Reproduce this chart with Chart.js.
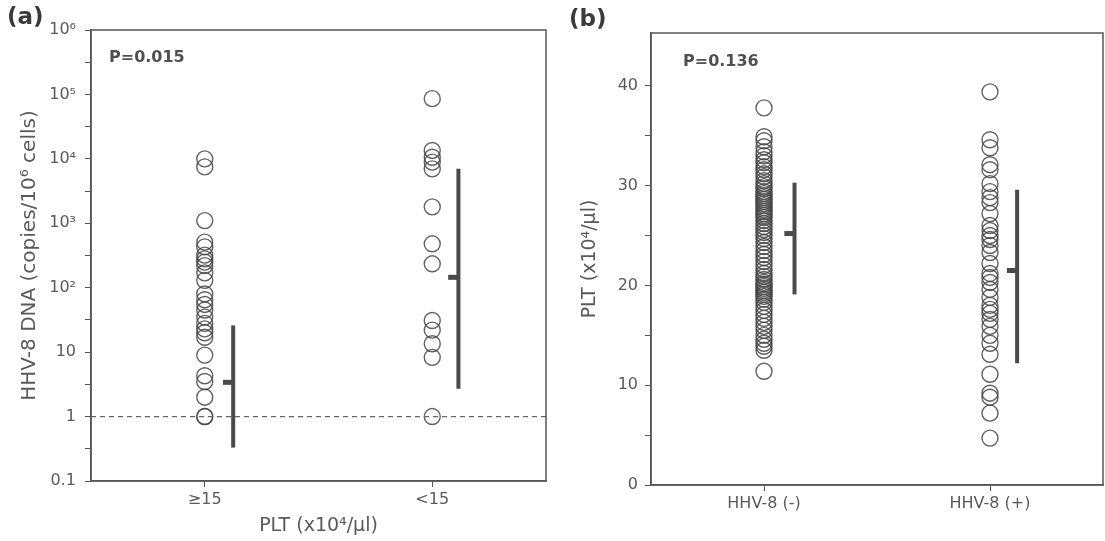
<!DOCTYPE html>
<html>
<head>
<meta charset="utf-8">
<script src="https://cdn.jsdelivr.net/npm/chart.js@4.4.1/dist/chart.umd.min.js"></script>
<style>
  body { margin: 0; background: #fff; width: 1105px; height: 541px; position: relative; overflow: hidden; }
  canvas { position: absolute; top: 0; }
  #chartA { left: 0; }
  #chartB { left: 560px; }
</style>
</head>
<body>
<canvas id="chartA" width="560" height="541"></canvas>
<canvas id="chartB" width="545" height="541"></canvas>
<script>
// ---- panel (a): HHV-8 DNA load by platelet group ----
const groupsA = ['\u226515', '<15']
const highPltVals = [10000, 7500, 1100, 510, 430, 320, 280, 250, 220, 170, 130, 80, 65, 55, 45, 35, 28, 23, 20, 17, 9, 4.3, 3.5, 2, 1, 1]
const lowPltVals = [86000, 13500, 10600, 8900, 7000, 1800, 480, 235, 31, 22, 13.5, 8.3, 1]
const meansA = [3.4, 145]
const lowBarA = [0.33, 2.7]
const highBarA = [26, 7000]
const cutoffA = 1
const tickValsA = [0.1, 1, 10, 100, 1000, 10000, 100000, 1000000]
const tickLabelsA = ['0.1', '1', '10', '10\u00b2', '10\u00b3', '10\u2074', '10\u2075', '10\u2076']
const minorTicksA = [0.316, 3.16, 31.6, 316, 3160, 31600, 316000]

// ---- panel (b): platelets by HHV-8 status ----
const groupsB = ['HHV-8 (-)', 'HHV-8 (+)']
const negVals = [37.8, 34.9, 34.5, 33.9, 33.4, 33.0, 32.6, 32.3, 31.9, 31.6, 31.2, 30.9, 30.5, 30.2, 29.9, 29.7, 29.4, 29.2, 29.0, 28.8, 28.6, 28.4, 28.2, 28.0, 27.8, 27.6, 27.4, 27.2, 27.0, 26.8, 26.5, 26.2, 25.9, 25.6, 25.3, 25.0, 24.7, 24.3, 23.9, 23.5, 23.1, 22.8, 22.4, 22.0, 21.6, 21.2, 20.9, 20.6, 20.3, 20.1, 19.9, 19.7, 19.5, 19.3, 19.1, 18.9, 18.6, 18.3, 17.9, 17.5, 17.1, 16.7, 16.3, 15.9, 15.5, 15.0, 14.6, 14.2, 13.9, 13.5, 11.4]
const posVals = [39.4, 34.6, 33.8, 32.1, 31.6, 30.2, 29.4, 28.8, 28.3, 27.2, 26.0, 25.5, 25.0, 24.6, 24.0, 23.3, 22.2, 21.2, 20.8, 20.3, 19.6, 18.8, 18.0, 17.6, 17.2, 16.6, 15.9, 15.0, 14.2, 13.1, 11.1, 9.2, 8.8, 7.2, 4.7]
const meansB = [25.2, 21.5]
const lowBarB = [19.1, 12.2]
const highBarB = [30.3, 29.6]
const tickValsB = [0, 10, 20, 30, 40]
const minorTicksB = [5, 15, 25, 35]

// where the mean/range bar sits next to each column (x units)
const barOffsetA = [0.125, 0.115]
const barOffsetB = [0.135, 0.12]

const inkColor = '#4a4a4a'
const axisColor = '#555'
const textColor = '#5a5a5a'
const fontFamily = '"DejaVu Sans", Verdana, sans-serif'

// box around the plot + panel letter + P value
const framePlugin = {
    id: 'frame',
    afterDraw(chart, args, opts) {
        const ctx = chart.ctx
        const a = chart.chartArea
        ctx.save()
        ctx.strokeStyle = axisColor
        ctx.lineWidth = 1.5
        ctx.strokeRect(a.left, a.top, a.right - a.left, a.bottom - a.top)
        ctx.fillStyle = '#3a3a3a'
        ctx.textBaseline = 'middle'
        ctx.font = 'bold 23px ' + fontFamily
        ctx.fillText(opts.panel, opts.panelX, opts.panelY)
        ctx.font = 'bold 16px ' + fontFamily
        ctx.fillStyle = '#505050'
        ctx.fillText(opts.pText, a.left + opts.pDx, a.top + opts.pDy)
        ctx.restore()
    }
}

function circles(vals, x) {
    return {
        data: vals.map(v => ({ x: x, y: v })),
        pointStyle: 'circle',
        pointRadius: 8,
        pointBorderWidth: 1.4,
        pointBorderColor: 'rgba(70,70,70,0.85)',
        pointBackgroundColor: 'rgba(0,0,0,0)',
        showLine: false
    }
}

function rangeBar(x, lo, hi) {
    return {
        data: [{ x: x, y: lo }, { x: x, y: hi }],
        showLine: true,
        borderColor: inkColor,
        borderWidth: 4,
        pointRadius: 0
    }
}

function meanStub(x, m) {
    return {
        data: [{ x: x - 0.045, y: m }, { x: x, y: m }],
        showLine: true,
        borderColor: inkColor,
        borderWidth: 5,
        pointRadius: 0
    }
}

function xScale(labels, height, title) {
    return {
        type: 'linear',
        min: 0.5,
        max: 2.5,
        afterBuildTicks: s => { s.ticks = [{ value: 1 }, { value: 2 }] },
        afterFit: s => {
            s.height = height
            s.paddingLeft = 0
            s.paddingRight = 0
        },
        ticks: {
            autoSkip: false,
            maxRotation: 0,
            padding: 3,
            color: textColor,
            font: { family: fontFamily, size: 16 },
            callback: v => labels[v - 1]
        },
        grid: { drawOnChartArea: false, drawTicks: true, tickLength: 6, color: axisColor },
        border: { display: true, color: axisColor, width: 1.5 },
        title: title
    }
}

const tickFont = { family: fontFamily, size: 16 }

// ---------- chart (a) ----------
const dsA = [
    {
        data: [{ x: 0.5, y: cutoffA }, { x: 2.5, y: cutoffA }],
        showLine: true,
        borderColor: '#666',
        borderWidth: 1.2,
        borderDash: [5, 4],
        pointRadius: 0
    },
    circles(highPltVals, 1),
    circles(lowPltVals, 2)
]
for (let i = 0; i < 2; i++) {
    dsA.push(rangeBar(i + 1 + barOffsetA[i], lowBarA[i], highBarA[i]))
    dsA.push(meanStub(i + 1 + barOffsetA[i], meansA[i]))
}

new Chart(document.getElementById('chartA'), {
    type: 'scatter',
    data: { datasets: dsA },
    options: {
        responsive: false,
        animation: false,
        layout: { autoPadding: false, padding: { top: 30, right: 14, left: 0, bottom: 0 } },
        plugins: {
            legend: { display: false },
            tooltip: { enabled: false },
            frame: { panel: '(a)', panelX: 7, panelY: 18, pText: 'P=0.015', pDx: 18, pDy: 28 }
        },
        scales: {
            x: xScale(groupsA, 60, {
                display: true,
                text: 'PLT (x10\u2074/\u03bcl)',
                color: textColor,
                font: { family: fontFamily, size: 19 },
                padding: { top: 0, bottom: 4 }
            }),
            y: {
                type: 'logarithmic',
                min: 0.1,
                max: 1000000,
                afterBuildTicks: s => {
                    s.ticks = tickValsA.concat(minorTicksA).sort((p, q) => p - q).map(v => ({ value: v }))
                },
                afterFit: s => { s.width = 91 },
                ticks: {
                    autoSkip: false,
                    padding: 9,
                    color: textColor,
                    font: tickFont,
                    callback: v => {
                        const idx = tickValsA.indexOf(v)
                        return idx >= 0 ? tickLabelsA[idx] : ''
                    }
                },
                grid: { drawOnChartArea: false, drawTicks: true, tickLength: 6, color: axisColor },
                border: { display: true, color: axisColor, width: 1.5 },
                title: {
                    display: true,
                    text: 'HHV-8 DNA (copies/10\u2076 cells)',
                    color: textColor,
                    font: { family: fontFamily, size: 20 },
                    padding: { top: 18, bottom: 0 }
                }
            }
        }
    },
    plugins: [framePlugin]
})

// ---------- chart (b) ----------
const dsB = [circles(negVals, 1), circles(posVals, 2)]
for (let i = 0; i < 2; i++) {
    dsB.push(rangeBar(i + 1 + barOffsetB[i], lowBarB[i], highBarB[i]))
    dsB.push(meanStub(i + 1 + barOffsetB[i], meansB[i]))
}

new Chart(document.getElementById('chartB'), {
    type: 'scatter',
    data: { datasets: dsB },
    options: {
        responsive: false,
        animation: false,
        layout: { autoPadding: false, padding: { top: 33, right: 2, left: 0, bottom: 0 } },
        plugins: {
            legend: { display: false },
            tooltip: { enabled: false },
            frame: { panel: '(b)', panelX: 9, panelY: 20, pText: 'P=0.136', pDx: 32, pDy: 29 }
        },
        scales: {
            x: xScale(groupsB, 56, { display: false }),
            y: {
                type: 'linear',
                min: 0,
                max: 45.3,
                afterBuildTicks: s => {
                    s.ticks = tickValsB.concat(minorTicksB).sort((p, q) => p - q).map(v => ({ value: v }))
                },
                afterFit: s => { s.width = 91 },
                ticks: {
                    autoSkip: false,
                    padding: 7,
                    color: textColor,
                    font: tickFont,
                    callback: v => tickValsB.includes(v) ? String(v) : ''
                },
                grid: { drawOnChartArea: false, drawTicks: true, tickLength: 6, color: axisColor },
                border: { display: true, color: axisColor, width: 1.5 },
                title: {
                    display: true,
                    text: 'PLT (x10\u2074/\u03bcl)',
                    color: textColor,
                    font: { family: fontFamily, size: 19 },
                    padding: { top: 19, bottom: 0 }
                }
            }
        }
    },
    plugins: [framePlugin]
})
</script>
</body>
</html>
